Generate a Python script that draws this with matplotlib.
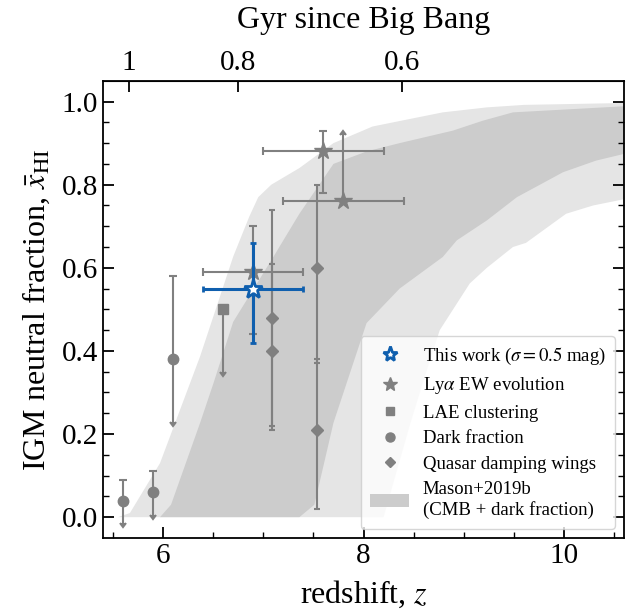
import matplotlib
matplotlib.use('Agg')
import matplotlib.pyplot as plt
import matplotlib.lines as mlines
import matplotlib.patches as mpatches
import numpy as np

plt.rcParams['font.family'] = ['Liberation Serif', 'DejaVu Serif']
plt.rcParams['mathtext.fontset'] = 'stix'

grey = '#808080'
blue = '#0f5fae'

# Mason+2019b bands (edges)
light_up_z = [5.40, 5.55, 5.67, 5.97, 6.37, 6.70, 6.86, 6.95, 7.08, 7.36, 7.70, 8.09, 8.46, 8.79, 9.23, 9.60, 10.7]
light_up_x = [0.0, 0.0, 0.01, 0.13, 0.387, 0.627, 0.723, 0.77, 0.80, 0.84, 0.90, 0.94, 0.958, 0.974, 0.986, 0.992, 0.997]
light_lo_z = [8.20, 8.46, 8.60, 8.76, 9.06, 9.23, 9.49, 9.62, 10.02, 10.29, 10.7]
light_lo_x = [0.0, 0.22, 0.33, 0.45, 0.5625, 0.60, 0.65, 0.66, 0.73, 0.75, 0.77]

dark_up_z = [5.97, 6.08, 6.37, 6.50, 6.70, 7.10, 7.36, 7.70, 8.03, 8.36, 8.89, 9.19, 9.49, 10.7]
dark_up_x = [0.0, 0.03, 0.227, 0.32, 0.47, 0.626, 0.73, 0.85, 0.88, 0.90, 0.93, 0.954, 0.974, 0.99]
dark_lo_z = [7.36, 7.51, 7.70, 8.03, 8.36, 8.79, 8.93, 9.23, 9.53, 9.99, 10.32, 10.7]
dark_lo_x = [0.0, 0.03, 0.227, 0.467, 0.55, 0.626, 0.666, 0.714, 0.77, 0.83, 0.858, 0.88]

# This work
this_z, this_x = [6.9], [0.55]
this_xlo, this_xhi = [0.13], [0.11]
this_zerr = [0.5]

# Lya EW evolution (last one is a lower limit)
ew_z = [6.9, 7.6]
ew_x = [0.59, 0.88]
ew_lo = [0.15, 0.10]
ew_hi = [0.11, 0.05]
ew_zerr = [0.5, 0.6]
ewlim_z, ewlim_x, ewlim_hi, ewlim_zerr = [7.8], [0.76], [0.16], [0.6]

# LAE clustering (upper limit)
lae_z, lae_x, lae_lo = [6.6], [0.5], [0.15]

# Dark fraction (upper limits)
dark_z = [5.6, 5.9, 6.1]
dark_x = [0.04, 0.06, 0.38]
dark_hi = [0.05, 0.05, 0.20]
dark_lo = [0.053, 0.054, 0.15]

# Quasar damping wings
qso_z = [7.09, 7.09, 7.54, 7.54]
qso_x = [0.40, 0.48, 0.60, 0.21]
qso_lo = [0.19, 0.26, 0.23, 0.19]
qso_hi = [0.21, 0.26, 0.20, 0.17]

# top axis
age_tick_z = [5.66, 6.75, 8.38]
age_labels = ['1', '0.8', '0.6']

fig = plt.figure(figsize=(6.35, 6.12), dpi=100)
ax = fig.add_axes([0.162, 0.121, 0.821, 0.747])

ax.fill(np.concatenate([light_up_z, light_lo_z[::-1]]),
        np.concatenate([light_up_x, light_lo_x[::-1]]),
        color='#e5e5e5', lw=0, zorder=0)
ax.fill(np.concatenate([dark_up_z, dark_lo_z[::-1]]),
        np.concatenate([dark_up_x, dark_lo_x[::-1]]),
        color='#cccccc', lw=0, zorder=0)

eb = dict(color=grey, ecolor=grey, elinewidth=1.5, capthick=1.5, ls='none')

# dark fraction: upper bar + arrow down
ax.errorbar(dark_z, dark_x, yerr=[np.zeros(3), dark_hi], marker='o', ms=7.5, capsize=3, **eb)
ax.errorbar(dark_z, dark_x, yerr=dark_lo, uplims=True, marker='none', capsize=2, **eb)

# LAE clustering
ax.errorbar(lae_z, lae_x, yerr=lae_lo, uplims=True, marker='s', ms=7.5, capsize=2, **eb)

# quasars
ax.errorbar(qso_z, qso_x, yerr=[qso_lo, qso_hi], marker='D', ms=6.5, capsize=2.5, **eb)

# Lya EW
ax.errorbar(ew_z, ew_x, xerr=ew_zerr, yerr=[ew_lo, ew_hi], marker='*', ms=13, capsize=3, **eb)
ax.errorbar(ewlim_z, ewlim_x, xerr=ewlim_zerr, marker='*', ms=13, capsize=3, **eb)
ax.errorbar(ewlim_z, ewlim_x, yerr=ewlim_hi, lolims=True, marker='none', capsize=2, **eb)

# this work
ax.errorbar(this_z, this_x, xerr=this_zerr, yerr=[this_xlo, this_xhi], marker='*', ms=14,
            mfc='white', mec=blue, mew=2, color=blue, ecolor=blue, elinewidth=2.2,
            capsize=2.5, capthick=2.2, ls='none', zorder=5)

ax.set_xlim(5.4, 10.6)
ax.set_ylim(-0.05, 1.05)
ax.set_xticks([6, 8, 10])
ax.set_xticks(np.arange(5.5, 10.6, 0.5), minor=True)
ax.set_yticks(np.arange(0, 1.01, 0.2))
ax.set_yticks(np.arange(0, 1.05, 0.05), minor=True)
ax.set_yticklabels(['%.1f' % v for v in np.arange(0, 1.01, 0.2)])
ax.tick_params(which='both', direction='in', right=True, top=False, labelsize=21)
ax.tick_params(which='major', length=8, width=1.3)
ax.tick_params(which='minor', length=4, width=1)
for s in ax.spines.values():
    s.set_linewidth(1.3)

ax.set_xlabel('redshift, $z$', fontsize=23, labelpad=7)
ax.set_ylabel(r'IGM neutral fraction, $\bar{x}_\mathrm{HI}$', fontsize=23, labelpad=7)

secax = ax.secondary_xaxis('top')
secax.set_xticks(age_tick_z, labels=age_labels)
secax.tick_params(direction='in', length=8, width=1.3, labelsize=21)
secax.set_xlabel('Gyr since Big Bang', fontsize=23, labelpad=16)

handles = [
    mlines.Line2D([], [], color=blue, marker='*', ms=11, mfc='white', mew=2, ls='none'),
    mlines.Line2D([], [], color=grey, marker='*', ms=10, ls='none'),
    mlines.Line2D([], [], color=grey, marker='s', ms=6, ls='none'),
    mlines.Line2D([], [], color=grey, marker='o', ms=6.5, ls='none'),
    mlines.Line2D([], [], color=grey, marker='D', ms=5.5, ls='none'),
    mpatches.Patch(color='#cccccc', lw=0),
]
labels = [r'This work ($\sigma = 0.5$ mag)', r'Ly$\alpha$ EW evolution', 'LAE clustering',
          'Dark fraction', 'Quasar damping wings', 'Mason+2019b\n(CMB + dark fraction)']
ax.legend(handles, labels, loc='lower right', fontsize=13.5, handlelength=2.1,
          handletextpad=0.7, labelspacing=0.45, framealpha=0.8, borderpad=0.5)

fig.savefig('out.png', dpi=100)
